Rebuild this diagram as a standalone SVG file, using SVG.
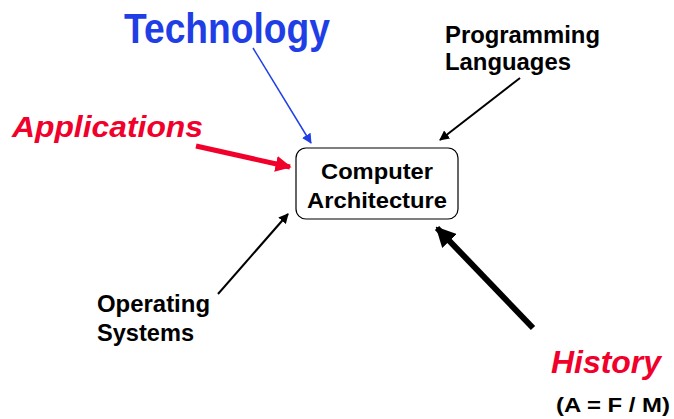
<svg xmlns="http://www.w3.org/2000/svg" width="674" height="419" viewBox="0 0 674 419">
<style>
text{font-family:"Liberation Sans",Arial,sans-serif;font-weight:bold}
.b{font-size:22px;fill:#000}
.p{font-size:23px;fill:#000}
</style>
<defs>
<marker id="ab" viewBox="0 0 10 10" refX="9" refY="5" markerWidth="10" markerHeight="10" markerUnits="userSpaceOnUse" orient="auto"><path d="M0,0L10,5L0,10z" fill="#1f3ee6"/></marker>
<marker id="ak" viewBox="0 0 10 10" refX="9" refY="5" markerWidth="10" markerHeight="10" markerUnits="userSpaceOnUse" orient="auto"><path d="M0,0L10,5L0,10z" fill="#000"/></marker>
<marker id="ar" viewBox="0 0 10 10" refX="9" refY="5" markerWidth="16" markerHeight="16" markerUnits="userSpaceOnUse" orient="auto"><path d="M0,0L10,5L0,10z" fill="#f0002a"/></marker>
<marker id="ah" viewBox="0 0 10 10" refX="9" refY="5" markerWidth="20" markerHeight="20" markerUnits="userSpaceOnUse" orient="auto"><path d="M0,0L10,5L0,10z" fill="#000"/></marker>
</defs>
<g id="connectors" fill="none">
<line x1="253" y1="48" x2="311" y2="143" stroke="#1f3ee6" stroke-width="1.5" marker-end="url(#ab)"/>
<line x1="520" y1="78" x2="440" y2="140" stroke="#000" stroke-width="2" marker-end="url(#ak)"/>
<line x1="196" y1="146" x2="290" y2="167" stroke="#f0002a" stroke-width="5" marker-end="url(#ar)"/>
<line x1="218" y1="294" x2="288" y2="214" stroke="#000" stroke-width="2" marker-end="url(#ak)"/>
<line x1="533" y1="328" x2="437" y2="228" stroke="#000" stroke-width="6" marker-end="url(#ah)"/>
</g>
<g id="computer-architecture">
<rect x="296" y="148" width="162" height="71" rx="10" fill="#fff" stroke="#000" stroke-width="1.2"/>
<text class="b" x="321" y="179" textLength="112" lengthAdjust="spacingAndGlyphs">Computer</text>
<text class="b" x="307" y="208" textLength="140" lengthAdjust="spacingAndGlyphs">Architecture</text>
</g>
<g id="technology"><text x="124" y="43" font-size="42" fill="#1f3ee6" textLength="206" lengthAdjust="spacingAndGlyphs">Technology</text></g>
<g id="programming-languages">
<text class="p" x="445" y="43" textLength="155" lengthAdjust="spacingAndGlyphs">Programming</text>
<text class="p" x="445" y="70" textLength="126" lengthAdjust="spacingAndGlyphs">Languages</text>
</g>
<g id="applications"><text x="12" y="137" font-size="30" font-style="italic" fill="#f0002a" textLength="191" lengthAdjust="spacingAndGlyphs">Applications</text></g>
<g id="operating-systems">
<text class="p" x="97" y="312" textLength="113" lengthAdjust="spacingAndGlyphs">Operating</text>
<text class="p" x="97" y="341" textLength="97" lengthAdjust="spacingAndGlyphs">Systems</text>
</g>
<g id="history">
<text x="551" y="373" font-size="31" font-style="italic" fill="#f0002a" textLength="110" lengthAdjust="spacingAndGlyphs">History</text>
<text x="556" y="412" font-size="21" fill="#000" textLength="114" lengthAdjust="spacingAndGlyphs">(A = F / M)</text>
</g>
</svg>
